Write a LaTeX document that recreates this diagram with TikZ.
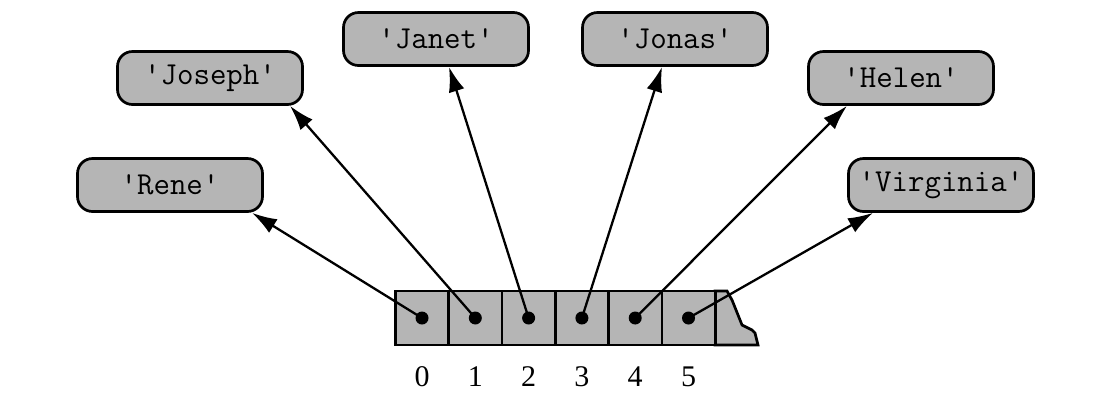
\documentclass[tikz,border=0pt]{standalone}
\usepackage{fontspec}
\setmainfont{Liberation Serif}
\usetikzlibrary{arrows.meta,calc}
\definecolor{boxgray}{gray}{0.71}
\begin{document}
\begin{tikzpicture}[x=0.5pt,y=-0.5pt,
  namebox/.style={draw,line width=1.35pt,fill=boxgray,rounded corners=7.5pt,
    minimum width=92.5pt,minimum height=26.5pt,inner sep=0pt,
    font=\fontsize{16}{18}\selectfont\ttfamily},
  cell/.style={draw,line width=1.35pt,fill=boxgray,minimum width=26.65pt,
    minimum height=27pt,inner sep=0pt},
  dot/.style={circle,fill=black,minimum size=6.5pt,inner sep=0pt},
  idx/.style={font=\fontsize{15}{18}\selectfont},
  ptr/.style={line width=1.15pt,-{Latex[length=12.5pt,width=8pt]}}]
\useasboundingbox(0,0)rectangle(1108,403);
% the names
\node[namebox](rene) at(170,185){'Rene'};
\node[namebox](joseph) at(210,78){'Joseph'};
\node[namebox](janet) at(436,39){'Janet'};
\node[namebox](jonas) at(675,39){'Jonas'};
\node[namebox](helen) at(901,78){'Helen'};
\node[namebox](virginia) at(941,185){'Virginia'};
% the list, torn off at the right
\draw[line width=1.35pt,fill=boxgray](715,291)--(727,291)--(732,300)--(742,325)
  --(752,330)--(755,333)--(758,345)--(715,345)--cycle;
\foreach \i in {0,...,5}{
  \node[cell](cell\i) at({422+53.3*\i},318){};
  \node[dot](d\i) at(cell\i){};
  \node[idx](idx\i) at({422+53.3*\i},377){\i};
}
% where the arrows end
\coordinate(rene-in) at($(rene.south)+(82,0)$);
\coordinate(joseph-in) at($(joseph.south)+(80,0)$);
\coordinate(janet-in) at($(janet.south)+(13,0)$);
\coordinate(jonas-in) at($(jonas.south)+(-13,0)$);
\coordinate(helen-in) at($(helen.south)+(-54,0)$);
\coordinate(virginia-in) at($(virginia.south)+(-68,0)$);
\draw[ptr](d0.center)--(rene-in);
\draw[ptr](d1.center)--(joseph-in);
\draw[ptr](d2.center)--(janet-in);
\draw[ptr](d3.center)--(jonas-in);
\draw[ptr](d4.center)--(helen-in);
\draw[ptr](d5.center)--(virginia-in);
\end{tikzpicture}
\end{document}
